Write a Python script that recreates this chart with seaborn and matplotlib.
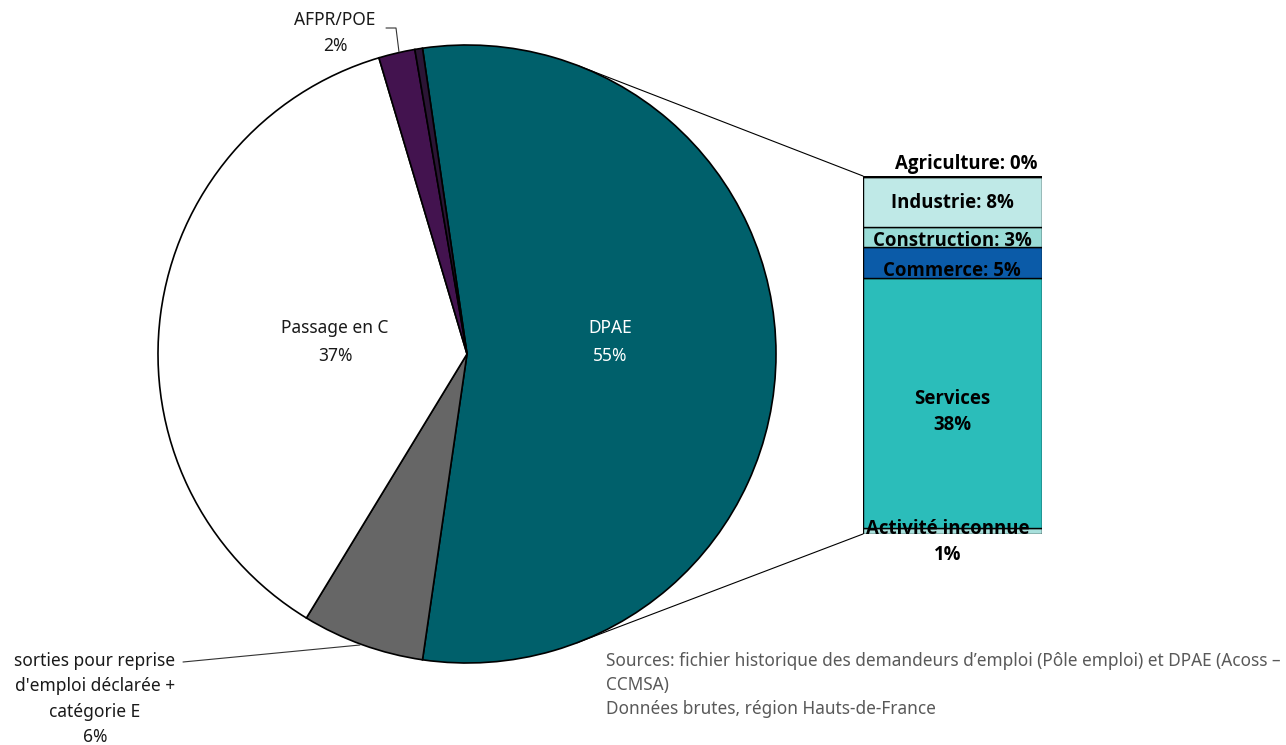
import numpy as np
import matplotlib
matplotlib.use("Agg")
import matplotlib.pyplot as plt
import seaborn as sns

sns.set_theme(style="white")
plt.rcParams['font.family'] = ['Noto Sans', 'DejaVu Sans']

# ---------------- data ----------------
pie_labels = ["DPAE", "sorties pour reprise\nd'emploi déclarée +\ncatégorie E", "Passage en C", "AFPR/POE", "Autres"]
pie_values = [54.6, 6.4, 36.7, 1.9, 0.4]
pie_pct_text = ["55%", "6%", "37%", "2%", ""]
pie_colors = ["#00606b", "#666666", "#ffffff", "#43134f", "#2b1535"]

bar_labels = ["Activité inconnue", "Services", "Commerce", "Construction", "Industrie", "Agriculture"]
bar_values = [0.9, 38.5, 4.8, 3.1, 7.8, 0.1]
bar_pct_text = ["1%", "38%", "5%", "3%", "8%", "0%"]
bar_colors = ["#a8e0dc", "#2bbdba", "#0b5ba8", "#9adcd7", "#bfe9e7", "#d5f2f0"]

source_lines = ["Sources: fichier historique des demandeurs d\u2019emploi (Pôle emploi) et DPAE (Acoss \u2013",
                "CCMSA)",
                "Données brutes, région Hauts-de-France"]

W, H = 1286, 745
fig = plt.figure(figsize=(W / 100, H / 100), dpi=100)
fig.patch.set_facecolor("white")

# pie axes: center (467,354) radius 309 px
cx, cy, r = 467, 354, 309
ax_pie = fig.add_axes([(cx - r) / W, (H - cy - r) / H, 2 * r / W, 2 * r / H])
start = pie_values[0] * 3.6 / 2
ax_pie.pie(pie_values, colors=pie_colors, startangle=start, counterclock=False,
           wedgeprops=dict(edgecolor="black", linewidth=1.2), radius=1)
ax_pie.set_aspect("auto")
ax_pie.set_xlim(-1, 1)
ax_pie.set_ylim(-1, 1)
ax_pie.axis("off")

def pd(px, py):
    return ((px - cx) / r, (cy - py) / r)

fs = 12.5
txt = "#1a1a1a"
x, y = pd(610, 342)
ax_pie.text(x, y, f"{pie_labels[0]}\n{pie_pct_text[0]}", color="white", ha="center", va="center",
            fontsize=fs, linespacing=1.65)
x, y = pd(335, 342)
ax_pie.text(x, y, f"{pie_labels[2]}\n{pie_pct_text[2]}", color=txt, ha="center", va="center",
            fontsize=fs, linespacing=1.65)
x, y = pd(335, 33)
ax_pie.text(x, y, f"{pie_labels[3]}\n{pie_pct_text[3]}", color=txt, ha="center", va="center",
            fontsize=fs, linespacing=1.6, clip_on=False)
x, y = pd(95, 699)
ax_pie.text(x, y, f"{pie_labels[1]}\n{pie_pct_text[1]}", color=txt, ha="center", va="center",
            fontsize=fs, linespacing=1.52, clip_on=False)

# leader lines
pts = [pd(386, 28), pd(396, 28), pd(399, 52)]
ax_pie.plot([p[0] for p in pts], [p[1] for p in pts], color="#333333", lw=0.8, clip_on=False)
pts = [pd(183, 662), pd(360, 645)]
ax_pie.plot([p[0] for p in pts], [p[1] for p in pts], color="#333333", lw=0.8, clip_on=False)

# bar axes
bx0, bx1, by_top, by_bot = 863, 1042, 176, 534
ax_bar = fig.add_axes([bx0 / W, (H - by_bot) / H, (bx1 - bx0) / W, (by_bot - by_top) / H])
total = sum(bar_values)
bottom = 0.0
for lab, v, c in zip(bar_labels, bar_values, bar_colors):
    sns.barplot(x=["DPAE"], y=[v], bottom=bottom, color=c, width=1.0, edgecolor="black",
                linewidth=1.0, ax=ax_bar, saturation=1)
    bottom += v
ax_bar.set_xlim(-0.5, 0.5)
ax_bar.set_ylim(0, total)
ax_bar.axis("off")

ppu = (by_bot - by_top) / total
def bd(px, py):
    return ((px - (bx0 + bx1) / 2) / (bx1 - bx0), (by_bot - py) / ppu)

bfs = 13.4
bold = dict(fontsize=bfs, fontweight="bold", family=["Open Sans", "DejaVu Sans"], color="black", clip_on=False)
lbl_pos = {
    "Agriculture": (966, 164),
    "Industrie": (952, 203),
    "Construction": (952, 241),
    "Commerce": (952, 271),
}
for lab, pct in zip(bar_labels, bar_pct_text):
    if lab in lbl_pos:
        x, y = bd(*lbl_pos[lab])
        ax_bar.text(x, y, f"{lab}: {pct}", ha="center", va="center", **bold)
x, y = bd(952, 412)
ax_bar.text(x, y, f"{bar_labels[1]}\n{bar_pct_text[1]}", ha="center", va="center",
            linespacing=1.4, **bold)
x, y = bd(948, 542)
ax_bar.text(x, y, f"{bar_labels[0]}\n{bar_pct_text[0]}", ha="center", va="center",
            linespacing=1.45, **bold)

# connector lines: tangent from bar corners to circle
inv = ax_pie.transData.inverted()
for corner_y, sign in [(total, 1), (0, -1)]:
    P = inv.transform(ax_bar.transData.transform((-0.5, corner_y)))
    d = np.hypot(*P)
    phi = np.arctan2(P[1], P[0])
    a = np.arccos(1 / d)
    t = phi + sign * a
    ax_pie.plot([np.cos(t), P[0]], [np.sin(t), P[1]], color="black", lw=0.8, clip_on=False, zorder=0)

# sources
for i, line in enumerate(source_lines):
    fig.text(606 / W, 1 - (661 + i * 24) / H, line, ha="left", va="center", fontsize=12.4, color="#595959")

fig.savefig("out.png", dpi=100, facecolor="white")
